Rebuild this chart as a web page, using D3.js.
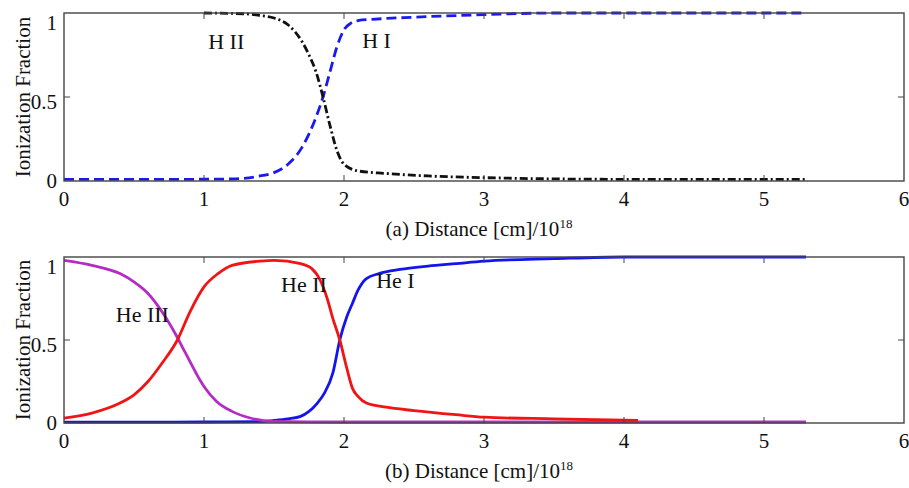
<!DOCTYPE html>
<html>
<head>
<meta charset="utf-8">
<script src="https://cdn.jsdelivr.net/npm/d3@7"></script>
<style>
  body { margin: 0; background: #fff; }
</style>
</head>
<body>
<div id="app"></div>
<script>
// x in units of 10^18 cm
const xTicks = [0, 1, 2, 3, 4, 5, 6];
const yTicks = [0, 0.5, 1];
const yTickLabels = ["0", "0.5", "1"];

// panel (a): hydrogen
const hIx = [0, 0.4, 0.8, 1.2, 1.4, 1.5, 1.6, 1.7, 1.75, 1.8, 1.85, 1.9, 1.95, 2.0, 2.05, 2.1, 2.2, 2.5, 3.0, 3.5, 4.5, 5.3];
const hI  = [0.01, 0.01, 0.01, 0.012, 0.03, 0.05, 0.1, 0.2, 0.28, 0.38, 0.5, 0.65, 0.8, 0.9, 0.94, 0.955, 0.962, 0.975, 0.99, 1.0, 1.0, 1.0];
const hIIx = [1.0, 1.3, 1.4, 1.5, 1.6, 1.7, 1.75, 1.8, 1.85, 1.9, 1.95, 2.0, 2.1, 2.3, 2.6, 3.0, 4.0, 5.3];
const hII  = [1.0, 0.995, 0.985, 0.97, 0.93, 0.83, 0.75, 0.65, 0.5, 0.33, 0.18, 0.1, 0.06, 0.045, 0.03, 0.02, 0.01, 0.01];

// panel (b): helium
const heIIIx = [0, 0.2, 0.4, 0.5, 0.6, 0.7, 0.8, 0.85, 0.9, 0.97, 1.0, 1.09, 1.2, 1.33, 1.5, 2.0, 3.0, 4.0, 5.3];
const heIII  = [0.98, 0.95, 0.9, 0.85, 0.78, 0.67, 0.53, 0.45, 0.37, 0.26, 0.22, 0.13, 0.07, 0.03, 0.01, 0.006, 0.006, 0.006, 0.006];
const heIIx = [0, 0.2, 0.4, 0.5, 0.6, 0.7, 0.81, 0.9, 1.0, 1.1, 1.2, 1.4, 1.5, 1.69, 1.77, 1.83, 1.88, 1.92, 1.97, 2.02, 2.06, 2.1, 2.16, 2.3, 2.5, 2.8, 3.0, 3.5, 4.1];
const heII  = [0.03, 0.06, 0.12, 0.17, 0.25, 0.36, 0.5, 0.67, 0.82, 0.9, 0.95, 0.975, 0.98, 0.96, 0.93, 0.86, 0.75, 0.63, 0.5, 0.33, 0.21, 0.16, 0.12, 0.095, 0.075, 0.05, 0.035, 0.025, 0.015];
const heIx = [0, 0.5, 1.0, 1.4, 1.5, 1.6, 1.69, 1.75, 1.81, 1.86, 1.92, 1.97, 2.02, 2.06, 2.1, 2.16, 2.25, 2.4, 2.6, 2.8, 3.0, 3.5, 4.0, 5.3];
const heI  = [0.005, 0.005, 0.006, 0.008, 0.015, 0.025, 0.04, 0.07, 0.12, 0.18, 0.3, 0.5, 0.64, 0.72, 0.8, 0.87, 0.9, 0.925, 0.945, 0.96, 0.975, 0.99, 1.0, 1.0];

const panels = [
  {
    top: 13, bottom: 181,
    title: "(a) Distance [cm]/10",
    series: [
      { x: hIx, y: hI, color: "#1a1af0", dash: "10,5" },
      { x: hIIx, y: hII, color: "#111", dash: "8,3,2,3" }
    ],
    labels: [
      { text: "H II", x: 1.03, y: 0.785 },
      { text: "H I", x: 2.13, y: 0.79 }
    ]
  },
  {
    top: 257, bottom: 423,
    title: "(b) Distance [cm]/10",
    series: [
      { x: heIx, y: heI, color: "#1414f0", dash: null },
      { x: heIIIx, y: heIII, color: "#b32cc4", dash: null },
      { x: heIIx, y: heII, color: "#f01414", dash: null }
    ],
    labels: [
      { text: "He III", x: 0.37, y: 0.61 },
      { text: "He II", x: 1.55, y: 0.79 },
      { text: "He I", x: 2.23, y: 0.815 }
    ]
  }
];

const width = 909, height = 488;
const left = 64, right = 904;
const serif = '"Liberation Serif", "Times New Roman", Times, serif';

const svg = d3.select('#app')
  .append('svg')
  .attr('width', width)
  .attr('height', height)
  .attr('font-family', serif)
  .style('font-family', serif);

const xScale = d3.scaleLinear().domain([0, 6]).range([left, right]);

panels.forEach(p => {
  const yScale = d3.scaleLinear().domain([0, 1]).range([p.bottom, p.top]);
  const g = svg.append('g').attr('fill', '#111');

  // curves
  p.series.forEach(s => {
    const pts = d3.zip(s.x, s.y);
    g.append('path')
      .datum(pts)
      .attr('fill', 'none')
      .attr('stroke', s.color)
      .attr('stroke-width', 2.8)
      .attr('stroke-dasharray', s.dash)
      .attr('d', d3.line().x(d => xScale(d[0])).y(d => yScale(d[1])).curve(d3.curveMonotoneX));
  });

  // frame
  g.append('rect')
    .attr('x', left).attr('y', p.top)
    .attr('width', right - left).attr('height', p.bottom - p.top)
    .attr('fill', 'none').attr('stroke', '#444').attr('stroke-width', 1.4);

  // inward ticks, all four sides
  const tk = 6;
  xTicks.slice(1, -1).forEach(t => {
    g.append('line').attr('x1', xScale(t)).attr('x2', xScale(t))
      .attr('y1', p.bottom).attr('y2', p.bottom - tk).attr('stroke', '#444');
    g.append('line').attr('x1', xScale(t)).attr('x2', xScale(t))
      .attr('y1', p.top).attr('y2', p.top + tk).attr('stroke', '#444');
  });
  g.append('line').attr('x1', left).attr('x2', left + tk)
    .attr('y1', yScale(0.5)).attr('y2', yScale(0.5)).attr('stroke', '#444');
  g.append('line').attr('x1', right).attr('x2', right - tk)
    .attr('y1', yScale(0.5)).attr('y2', yScale(0.5)).attr('stroke', '#444');

  // tick labels
  g.selectAll('.xt').data(xTicks).join('text')
    .attr('x', d => xScale(d)).attr('y', p.bottom + 25)
    .attr('text-anchor', 'middle').attr('font-size', 21)
    .text(d => d);
  g.selectAll('.yt').data(yTicks).join('text')
    .attr('x', left - 7).attr('y', d => yScale(d) + 7 + 10 * d)
    .attr('text-anchor', 'end').attr('font-size', 21)
    .text((d, i) => yTickLabels[i]);

  // axis titles
  const t = g.append('text')
    .attr('x', 479).attr('y', p.bottom + 55)
    .attr('text-anchor', 'middle').attr('font-size', 21)
    .text(p.title);
  t.append('tspan').attr('font-size', 13).attr('dy', -8).text('18');

  g.append('text')
    .attr('transform', `translate(30,${(p.top + p.bottom) / 2}) rotate(-90)`)
    .attr('text-anchor', 'middle').attr('font-size', 21)
    .text('Ionization Fraction');

  // curve annotations
  p.labels.forEach(l => {
    g.append('text')
      .attr('x', xScale(l.x)).attr('y', yScale(l.y))
      .attr('font-size', 22)
      .text(l.text);
  });
});
</script>
</body>
</html>
